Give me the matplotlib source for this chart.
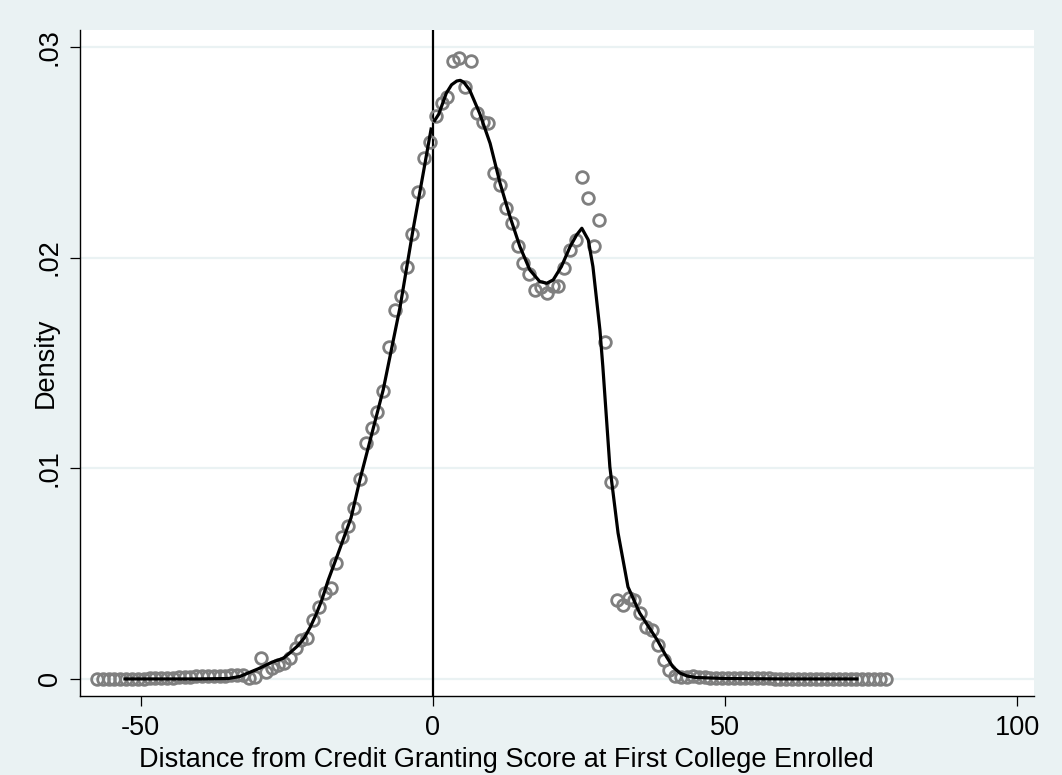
import numpy as np
import matplotlib
matplotlib.use("Agg")
import matplotlib.pyplot as plt

plt.rcParams['font.family'] = ['Liberation Sans', 'DejaVu Sans']

# bin centres and binned density (hollow circles)
bin_x = np.arange(-57.5, 78.0, 1.0)
bin_y = [
    # -57.5 .. -30.5
    0.0, 0.0, 0.0, 0.0, 0.0, 0.0, 0.0, 0.00002,
    0.00002, 0.00003, 0.00003, 0.00004, 0.00005, 0.00006, 0.00008, 0.00009, 0.00010, 0.00012,
    0.00012, 0.00014, 0.00015, 0.00016, 0.00015, 0.00018, 0.00020, 0.00017, 0.00005, 0.00010,
    # -29.5 .. -0.5
    0.00098, 0.00035, 0.00051, 0.00066, 0.00075, 0.00098, 0.00146, 0.00185, 0.00196, 0.00280,
    0.00343, 0.00407, 0.00430, 0.00552, 0.00675, 0.00728, 0.00810, 0.00949, 0.01122, 0.01190,
    0.01266, 0.01368, 0.01574, 0.01751, 0.01819, 0.01954, 0.02112, 0.02313, 0.02471, 0.02550,
    # 0.5 .. 29.5
    0.02673, 0.02732, 0.02764, 0.02933, 0.02946, 0.02808, 0.02933, 0.02685, 0.02645, 0.02640,
    0.02403, 0.02345, 0.02234, 0.02166, 0.02055, 0.01976, 0.01921, 0.01846, 0.01862, 0.01831,
    0.01865, 0.01865, 0.01951, 0.02036, 0.02084, 0.02383, 0.02283, 0.02055, 0.02178, 0.01599,
    # 30.5 .. 41.5
    0.00934, 0.00375, 0.00351, 0.00383, 0.00375, 0.00312, 0.00248, 0.00233, 0.00161, 0.00090,
    0.00043, 0.00014,
    # 42.5 .. 77.5
    0.00008, 0.00008, 0.00012, 0.00010, 0.00008, 0.00006, 0.00006, 0.00005, 0.00005, 0.00004,
    0.00004, 0.00004, 0.00003, 0.00003, 0.00003, 0.00003, 0.00002, 0.00002, 0.00002, 0.00002,
    0.00002, 0.00001, 0.00001, 0.00001, 0.00001, 0.00001, 0.0, 0.0, 0.0, 0.0,
    0.0, 0.0, 0.0, 0.0, 0.0, 0.0,
]

# fitted density, left of the cutoff
left_x = [-52.7, -40.0, -35.0, -33.0, -31.9, -29.9, -27.5, -25.6, -24.5, -23.1, -22.0,
          -21.0, -20.0, -19.0, -17.9, -16.2, -14.0, -12.5, -8.5, -5.6, -3.4, -1.7, -0.3]
left_y = [0.0, 0.0, 0.00002, 0.00012, 0.00025, 0.00048, 0.00080, 0.00098, 0.00123, 0.00158,
          0.00195, 0.00245, 0.00305, 0.00375, 0.00470, 0.00597, 0.00765, 0.00944, 0.01372,
          0.01767, 0.02131, 0.02392, 0.02610]

# fitted density, right of the cutoff
right_x = [0.3, 1.0, 2.3, 3.2, 4.1, 4.7, 5.3, 6.3, 8.0, 9.8, 11.5, 13.2, 14.9, 16.6, 18.3,
           19.5, 20.6, 22.0, 23.5, 24.6, 25.5, 26.6, 27.4, 28.6, 29.1, 30.3, 31.7, 33.4,
           35.4, 38.4, 40.0, 41.1, 42.3, 43.5, 45.0, 50.0, 60.0, 72.6]
right_y = [0.0265, 0.0268, 0.0278, 0.0282, 0.02838, 0.02841, 0.02832, 0.02795, 0.02685,
           0.02542, 0.02353, 0.02194, 0.02052, 0.01941, 0.01886, 0.01878, 0.01894, 0.01957,
           0.02052, 0.02107, 0.02139, 0.02084, 0.01957, 0.01656, 0.01481, 0.01006, 0.00693,
           0.00437, 0.00313, 0.00185, 0.00105, 0.00057, 0.00028, 0.00014, 0.00007, 0.00002,
           0.0, 0.0]

x_ticks = [-50, 0, 50, 100]
y_ticks = [0, 0.01, 0.02, 0.03]
y_tick_labels = ['0', '.01', '.02', '.03']

bg = '#eaf2f3'
fs = 19.5

fig = plt.figure(figsize=(10.62, 7.75), dpi=100, facecolor=bg)
ax = fig.add_axes([80 / 1062, 1 - 696 / 775, 954 / 1062, 666 / 775])
ax.set_facecolor('white')

for yt in y_ticks:
    ax.axhline(yt, color=bg, lw=1.6, zorder=0)

ax.axvline(0, color='black', lw=1.6, zorder=2)

ax.plot(bin_x, bin_y, linestyle='none', marker='o', markersize=8.4,
        markerfacecolor='none', markeredgecolor='#7f7f7f', markeredgewidth=2.0, zorder=3)
ax.plot(left_x, left_y, color='black', lw=2.3, zorder=4, solid_joinstyle='round')
ax.plot(right_x, right_y, color='black', lw=2.3, zorder=4, solid_joinstyle='round')

ax.set_xlim(-60.4, 102.9)
ax.set_ylim(-0.00081, 0.0308)

ax.set_xticks(x_ticks)
ax.set_xticklabels([str(v) for v in x_ticks])
ax.set_yticks(y_ticks)
ax.set_yticklabels(y_tick_labels, rotation=90, va='center')

for side in ['top', 'right']:
    ax.spines[side].set_visible(False)
for side in ['left', 'bottom']:
    ax.spines[side].set_linewidth(1.0)
    ax.spines[side].set_color('black')

ax.tick_params(axis='both', direction='out', length=7.5, width=0.9, labelsize=fs,
               colors='black')
ax.tick_params(axis='x', pad=6)
ax.tick_params(axis='y', pad=5)

ax.set_xlabel('Distance from Credit Granting Score at First College Enrolled', fontsize=fs)
ax.set_ylabel('Density', fontsize=fs)
ax.xaxis.set_label_coords((506 - 80) / 954, -(760 - 696) / 666)
ax.yaxis.set_label_coords(-(80 - 46) / 954, 0.5)
ax.xaxis.label.set_va('center')
ax.yaxis.label.set_va('center')

fig.savefig('out.png', dpi=100, facecolor=bg)
